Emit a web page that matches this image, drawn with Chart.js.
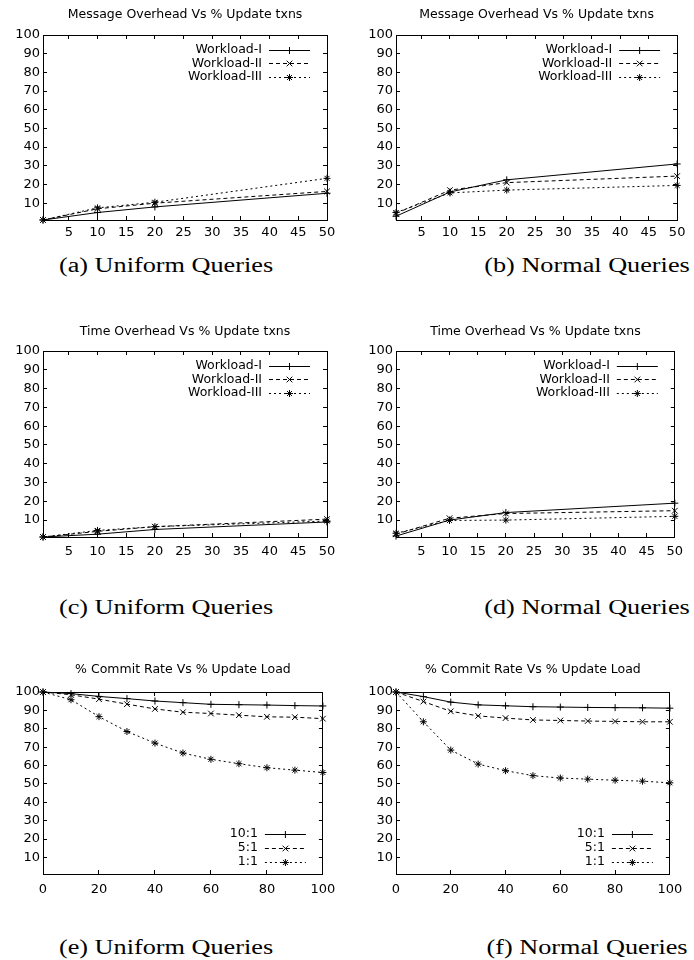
<!DOCTYPE html>
<html>
<head>
<meta charset="utf-8">
<script src="https://cdn.jsdelivr.net/npm/chart.js@4.4.0/dist/chart.umd.min.js"></script>
<style>
  html, body { margin: 0; padding: 0; background: #fff; }
  body { position: relative; width: 694px; height: 960px; overflow: hidden; }
  canvas { position: absolute; }
  .cap {
    position: absolute;
    font-family: 'Liberation Serif', serif;
    font-size: 20.5px;
    white-space: nowrap;
    color: #000;
    transform: translate(-50%, -50%) scaleX(1.28);
  }
</style>
</head>
<body>
<canvas id="chartA"></canvas>
<canvas id="chartB"></canvas>
<canvas id="chartC"></canvas>
<canvas id="chartD"></canvas>
<canvas id="chartE"></canvas>
<canvas id="chartF"></canvas>

<div class="cap" style="left:166px;top:265px">(a) Uniform Queries</div>
<div class="cap" style="left:587px;top:265px">(b) Normal Queries</div>
<div class="cap" style="left:166px;top:607px">(c) Uniform Queries</div>
<div class="cap" style="left:587px;top:607px">(d) Normal Queries</div>
<div class="cap" style="left:166px;top:947px">(e) Uniform Queries</div>
<div class="cap" style="left:587px;top:947px">(f) Normal Queries</div>

<script>
// ---- data ----
const updTxns = [0.5, 10, 20, 50];
const updLoad = [0, 10, 20, 30, 40, 50, 60, 70, 80, 90, 100];

const xTicksTxns = [5, 10, 15, 20, 25, 30, 35, 40, 45, 50];
const xTicksLoad = [0, 20, 40, 60, 80, 100];
const yTicks = [10, 20, 30, 40, 50, 60, 70, 80, 90, 100];

const workloads = ['Workload-I', 'Workload-II', 'Workload-III'];
const ratios = ['10:1', '5:1', '1:1'];

// (a) message overhead, uniform queries
const msgUniI = [1, 5, 8, 15.3];
const msgUniII = [1, 7, 10, 16.3];
const msgUniIII = [1, 7.5, 10.5, 23.3];
// (b) message overhead, normal queries
const msgNormI = [3, 16, 22.5, 31];
const msgNormII = [4.5, 17, 21, 24.5];
const msgNormIII = [5, 15.5, 17, 19.5];
// (c) time overhead, uniform queries
const timeUniI = [1, 2.5, 5, 9];
const timeUniII = [1, 4, 6.5, 10.5];
const timeUniIII = [1, 4.5, 6.5, 9.5];
// (d) time overhead, normal queries
const timeNormI = [1.5, 10, 14, 19];
const timeNormII = [2.5, 11, 13.5, 15];
const timeNormIII = [3, 9.8, 10, 12];
// (e) commit rate, uniform queries
const commitUni10 = [100, 99.1, 97.6, 96.4, 95.1, 94.2, 93.3, 93.1, 92.9, 92.6, 92.4];
const commitUni5 = [100, 98.5, 96.1, 93.4, 90.8, 89, 88.3, 87.4, 86.5, 86.3, 85.5];
const commitUni1 = [100, 95.8, 86.6, 78.5, 72.2, 66.8, 63.4, 61, 58.8, 57.5, 56.2];
// (f) commit rate, normal queries
const commitNorm10 = [100, 97.5, 94.5, 93, 92.5, 92, 91.8, 91.6, 91.5, 91.4, 91.2];
const commitNorm5 = [100, 94.8, 89.5, 87, 85.8, 84.8, 84.5, 84.2, 84, 83.8, 83.8];
const commitNorm1 = [100, 83.8, 68.4, 60.8, 57.2, 54.5, 53.2, 52.6, 52, 51.5, 50.6];

// gnuplot-ish line types: solid +, dashed x, dotted *
const lineTypes = [
  { dash: [], point: 'cross', r: 3.5 },
  { dash: [4, 3], point: 'crossRot', r: 4 },
  { dash: [2, 3], point: 'star', r: 3.5 }
];

Chart.defaults.font.family = "'DejaVu Sans', sans-serif";
Chart.defaults.color = '#000';
Chart.defaults.animation = false;

// key drawn like gnuplot: right-justified label, then a sample line with a point
function gnuplotKey(corner) {
  return {
    id: 'gpKey',
    afterDatasetsDraw(chart) {
      const ctx = chart.ctx;
      const area = chart.chartArea;
      ctx.save();
      ctx.font = "12.5px 'DejaVu Sans'";
      ctx.fillStyle = '#000';
      ctx.strokeStyle = '#000';
      ctx.lineWidth = 1;
      ctx.textAlign = 'right';
      ctx.textBaseline = 'middle';
      chart.data.datasets.forEach((ds, i) => {
        const y = corner === 'top'
          ? area.top + 14.5 + i * 13.8
          : area.bottom - 40.5 + i * 14.2;
        ctx.fillText(ds.label, area.right - 65, y);
        ctx.setLineDash(ds.borderDash);
        ctx.beginPath();
        ctx.moveTo(area.right - 58, Math.round(y) + 0.5);
        ctx.lineTo(area.right - 17, Math.round(y) + 0.5);
        ctx.stroke();
        ctx.setLineDash([]);
        Chart.helpers.drawPoint(ctx, {
          pointStyle: ds.pointStyle, radius: ds.pointRadius, borderWidth: 1, rotation: 0
        }, area.right - 37.5, Math.round(y) + 0.5);
      });
      ctx.restore();
    }
  };
}

function tickSet(values) {
  return scale => { scale.ticks = values.map(v => ({ value: v })); };
}

function makeChart(id, box, spec) {
  const canvas = document.getElementById(id);
  canvas.width = box.w;
  canvas.height = box.h;
  canvas.style.left = box.x + 'px';
  canvas.style.top = box.y + 'px';

  const lh = 12.5 * 1.2;
  const xAxisH = box.h - (box.plotBottom - box.y);

  const datasets = spec.series.map((ys, i) => ({
    label: spec.names[i],
    data: spec.xs.map((x, j) => ({ x: x, y: ys[j] })),
    borderColor: '#000',
    borderWidth: 1,
    borderDash: lineTypes[i].dash,
    pointStyle: lineTypes[i].point,
    pointRadius: lineTypes[i].r,
    pointBorderColor: '#000',
    pointBorderWidth: 1,
    pointBackgroundColor: 'rgba(0,0,0,0)',
    fill: false,
    tension: 0,
    clip: false
  }));

  const grid = { drawOnChartArea: false, tickLength: -4, color: '#000' };
  const border = { color: '#000', width: 1 };

  return new Chart(canvas, {
    type: 'line',
    data: { datasets: datasets },
    options: {
      responsive: false,
      events: [],
      layout: { padding: { left: 0, right: box.x + box.w - box.plotRight, top: 0, bottom: 0 } },
      plugins: {
        legend: { display: false },
        tooltip: { enabled: false },
        title: {
          display: true,
          text: spec.title,
          fullSize: false,
          color: '#000',
          font: { size: 12.5, weight: 'normal' },
          padding: {
            top: box.titleY - box.y - lh / 2,
            bottom: box.plotTop - box.titleY - lh / 2
          }
        }
      },
      scales: {
        x: {
          type: 'linear', axis: 'x', position: 'bottom',
          min: spec.xMin, max: spec.xMax,
          afterBuildTicks: tickSet(spec.xTicks),
          afterFit: s => { s.height = xAxisH; },
          grid: grid, border: border,
          ticks: { padding: box.xPad, font: { size: 13 }, color: '#000', maxRotation: 0, autoSkip: false }
        },
        xTop: {
          type: 'linear', axis: 'x', position: 'top',
          min: spec.xMin, max: spec.xMax,
          afterBuildTicks: tickSet(spec.xTicks),
          afterFit: s => { s.height = 0; },
          grid: grid, border: border,
          ticks: { display: false }
        },
        y: {
          type: 'linear', axis: 'y', position: 'left',
          min: 1, max: 100,
          afterBuildTicks: tickSet(yTicks),
          afterFit: s => { s.width = box.plotLeft - box.x; },
          grid: grid, border: border,
          ticks: { padding: 7, font: { size: 13 }, color: '#000', autoSkip: false }
        },
        yRight: {
          type: 'linear', axis: 'y', position: 'right',
          min: 1, max: 100,
          afterBuildTicks: tickSet(yTicks),
          afterFit: s => { s.width = 0; },
          grid: grid, border: border,
          ticks: { display: false }
        }
      }
    },
    plugins: [gnuplotKey(spec.keyCorner)]
  });
}

// ---- panel boxes (canvas rect + plot frame) ----
const rows = [
  { y: 0, h: 250, titleY: 15, plotTop: 35, plotBottom: 220, xPad: 8.6 },
  { y: 300, h: 280, titleY: 332, plotTop: 351, plotBottom: 537, xPad: 10.9 },
  { y: 640, h: 270, titleY: 670, plotTop: 692, plotBottom: 874, xPad: 11.7 }
];
const cols = [
  { x: 0, w: 347, plotLeft: 43, plotRight: 327 },
  { x: 347, w: 347, plotLeft: 396, plotRight: 680 }
];
function panel(r, c) { return Object.assign({}, rows[r], cols[c]); }

const msgTitle = 'Message Overhead Vs % Update txns';
const timeTitle = 'Time Overhead Vs % Update txns';
const commitTitle = '% Commit Rate Vs % Update Load';

makeChart('chartA', panel(0, 0), {
  title: msgTitle, xs: updTxns, xMin: 0.5, xMax: 50, xTicks: xTicksTxns,
  names: workloads, series: [msgUniI, msgUniII, msgUniIII], keyCorner: 'top'
});
makeChart('chartB', panel(0, 1), {
  title: msgTitle, xs: updTxns, xMin: 0.5, xMax: 50, xTicks: xTicksTxns,
  names: workloads, series: [msgNormI, msgNormII, msgNormIII], keyCorner: 'top'
});
makeChart('chartC', panel(1, 0), {
  title: timeTitle, xs: updTxns, xMin: 0.5, xMax: 50, xTicks: xTicksTxns,
  names: workloads, series: [timeUniI, timeUniII, timeUniIII], keyCorner: 'top'
});
makeChart('chartD', panel(1, 1), {
  title: timeTitle, xs: updTxns, xMin: 0.5, xMax: 50, xTicks: xTicksTxns,
  names: workloads, series: [timeNormI, timeNormII, timeNormIII], keyCorner: 'top'
});
makeChart('chartE', panel(2, 0), {
  title: commitTitle, xs: updLoad, xMin: 0, xMax: 100, xTicks: xTicksLoad,
  names: ratios, series: [commitUni10, commitUni5, commitUni1], keyCorner: 'bottom'
});
makeChart('chartF', panel(2, 1), {
  title: commitTitle, xs: updLoad, xMin: 0, xMax: 100, xTicks: xTicksLoad,
  names: ratios, series: [commitNorm10, commitNorm5, commitNorm1], keyCorner: 'bottom'
});
</script>
</body>
</html>
